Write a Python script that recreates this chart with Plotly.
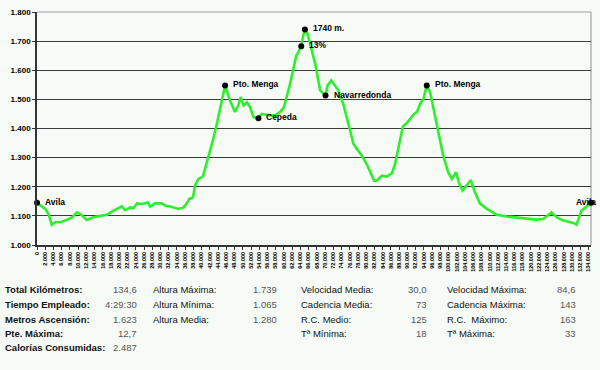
import plotly.graph_objects as go

# ---- data ----
km = [0, 2.0, 2.8, 3.6, 4.4, 5.7, 7.3, 8.5, 9.7, 10.5, 12.1, 13.7, 15.4, 17.0, 18.6,
      20.6, 21.4, 22.7, 23.5, 24.3, 25.5, 26.9, 27.5, 28.7, 30.3, 31.2, 32.4, 34.4,
      35.6, 36.4, 37.0, 37.9, 38.4, 39.2, 40.3, 41.3, 42.5, 43.7, 44.7, 45.7, 46.9,
      48.1, 48.9, 49.5, 50.2, 51.0, 51.8, 52.6, 53.8, 54.6, 55.4, 56.6, 57.9, 59.1,
      60.0, 60.7, 61.5, 62.3, 63.0, 63.5, 64.2, 64.7, 65.1, 65.7, 66.8, 67.6, 68.2,
      68.8, 70.1, 70.6, 71.5, 72.4, 73.2, 74.4, 75.7, 76.9, 77.7, 78.9, 80.1, 80.9,
      81.9, 82.5, 83.8, 85.0, 86.2, 87.0, 87.8, 88.9, 89.8, 90.8, 91.6, 92.3, 93.1,
      93.9, 94.7, 95.5, 96.3, 97.5, 98.7, 99.9, 100.8, 101.8, 102.6, 103.4, 104.4,
      105.4, 106.4, 107.6, 109.3, 111.7, 114.1, 116.5, 119.0, 121.4, 123.0, 124.0,
      125.0, 126.3, 127.9, 130.3, 131.1, 131.7, 132.3, 133.5, 134.6]
elev = [1145, 1124, 1106, 1069, 1078, 1078, 1087, 1095, 1112, 1106, 1086, 1095, 1100,
        1104, 1118, 1133, 1120, 1129, 1127, 1143, 1141, 1146, 1132, 1143, 1143, 1135,
        1132, 1124, 1129, 1143, 1158, 1164, 1204, 1227, 1235, 1284, 1347, 1416, 1485,
        1548, 1496, 1457, 1479, 1508, 1479, 1490, 1473, 1439, 1435, 1450, 1448, 1445,
        1445, 1457, 1473, 1508, 1554, 1605, 1651, 1662, 1682, 1720, 1740, 1726, 1668,
        1622, 1576, 1531, 1513, 1548, 1565, 1548, 1531, 1485, 1416, 1347, 1330, 1307,
        1278, 1250, 1221, 1221, 1238, 1235, 1246, 1278, 1336, 1407, 1418, 1435, 1450,
        1456, 1485, 1502, 1548, 1525, 1473, 1393, 1307, 1250, 1227, 1250, 1210, 1187,
        1204, 1223, 1181, 1143, 1124, 1104, 1098, 1095, 1091, 1087, 1089, 1100, 1112,
        1095, 1084, 1076, 1070, 1095, 1118, 1132, 1145]

marker_km = [0, 45.7, 53.8, 64.2, 65.1, 70.1, 94.7, 134.6]
marker_elev = [1145, 1548, 1435, 1682, 1740, 1513, 1548, 1145]
marker_labels = ["Avila", "Pto. Menga", "Cepeda", "13%", "1740 m.", "Navarredonda",
                 "Pto. Menga", "Avila"]

x_tick_vals = list(range(0, 135, 2))
x_tick_text = ["0"] + [f"{v}.000" for v in x_tick_vals[1:]]
y_tick_vals = [1000, 1100, 1200, 1300, 1400, 1500, 1600, 1700, 1800]
y_tick_text = ["1.000", "1.100", "1.200", "1.300", "1.400", "1.500", "1.600",
               "1.700", "1.800"]

stats_col1_labels = ["Total Kilómetros:", "Tiempo Empleado:", "Metros Ascensión:",
                     "Pte. Máxima:", "Calorías Consumidas:"]
stats_col1_values = ["134,6", "4:29:30", "1.623", "12,7", "2.487"]
stats_col2_labels = ["Altura Máxima:", "Altura Mínima:", "Altura Media:"]
stats_col2_values = ["1.739", "1.065", "1.280"]
stats_col3_labels = ["Velocidad Media:", "Cadencia Media:", "R.C. Medio:", "Tª Mínima:"]
stats_col3_values = ["30,0", "73", "125", "18"]
stats_col4_labels = ["Velocidad Máxima:", "Cadencia Máxima:", "R.C.  Máximo:", "Tª Máxima:"]
stats_col4_values = ["84,6", "143", "163", "33"]

# ---- layout geometry (pixels) ----
W, H = 600, 370
L, R, T, B = 37, 9, 12, 125
PW, PH = W - L - R, H - T - B
BG = "#F6FBF6"


def px(xp):
    return (xp - L) / PW


def py(yp):
    return (H - B - yp) / PH


fig = go.Figure()

fig.add_trace(go.Scatter(x=km, y=elev, mode="lines",
                         line=dict(color="#2EEF2E", width=2.6),
                         hoverinfo="skip", showlegend=False))
fig.add_trace(go.Scatter(x=marker_km, y=marker_elev, mode="markers",
                         marker=dict(color="#000000", size=6),
                         cliponaxis=False, showlegend=False, hoverinfo="skip"))

label_font = dict(family="Liberation Sans", size=8.5, color="#000000", weight="bold")
for i, (xv, yv, lab) in enumerate(zip(marker_km, marker_elev, marker_labels)):
    last = i == len(marker_labels) - 1
    fig.add_annotation(x=xv, y=yv, xref="x", yref="y", text=lab, showarrow=False,
                       xanchor="left", yanchor="middle",
                       xshift=-17 if last else 6, yshift=1, font=label_font)

fig.update_layout(
    width=W, height=H,
    margin=dict(l=L, r=R, t=T, b=B, pad=0),
    paper_bgcolor=BG, plot_bgcolor=BG,
    showlegend=False,
    xaxis=dict(range=[0, 134.6], tickmode="array", tickvals=x_tick_vals,
               ticktext=x_tick_text, tickangle=-90,
               tickfont=dict(family="Liberation Sans", size=5.5, color="#000000",
                             weight="bold"),
               ticks="outside", ticklen=3, tickcolor="#333333",
               showgrid=False, zeroline=False, showline=True,
               linecolor="#333333", linewidth=1.5, automargin=False),
    yaxis=dict(range=[1000, 1800], tickmode="array", tickvals=y_tick_vals,
               ticktext=y_tick_text,
               tickfont=dict(family="Liberation Sans", size=8, color="#000000",
                             weight="bold"),
               ticks="outside", ticklen=3, tickcolor="#333333",
               showgrid=True, gridcolor="#3A3A3A", gridwidth=1.4,
               zeroline=False, showline=True, linecolor="#333333", linewidth=1.5,
               automargin=False),
)

# top & right border (gray)
fig.add_shape(type="line", xref="paper", yref="paper", x0=0, x1=1, y0=1, y1=1,
              line=dict(color="#A0A0A0", width=1.2))
fig.add_shape(type="line", xref="paper", yref="paper", x0=1, x1=1, y0=0, y1=1,
              line=dict(color="#A0A0A0", width=1.2), layer="below")

# ---- stats table ----
row_y = [289, 304, 319, 333, 347]
lab_font = dict(family="Liberation Sans", size=9.5, color="#111111")
bold_font = dict(family="Liberation Sans", size=9.5, color="#111111", weight="bold")
val_font = dict(family="Liberation Sans", size=9.5, color="#555555")


def add_col(labels, values, x_lab, x_val, lfont):
    for i, (lab, val) in enumerate(zip(labels, values)):
        fig.add_annotation(x=px(x_lab), y=py(row_y[i]), xref="paper", yref="paper",
                           text=lab, showarrow=False, xanchor="left",
                           yanchor="middle", font=lfont)
        fig.add_annotation(x=px(x_val), y=py(row_y[i]), xref="paper", yref="paper",
                           text=val, showarrow=False, xanchor="right",
                           yanchor="middle", font=val_font)


add_col(stats_col1_labels, stats_col1_values, 3, 139, bold_font)
add_col(stats_col2_labels, stats_col2_values, 151, 279, lab_font)
add_col(stats_col3_labels, stats_col3_values, 299, 429, lab_font)
add_col(stats_col4_labels, stats_col4_values, 445, 578, lab_font)

fig.write_html("out.html",
               config={"displayModeBar": False},
               post_script="document.body.style.margin='0';"
                           "document.body.style.background='" + BG + "';")
